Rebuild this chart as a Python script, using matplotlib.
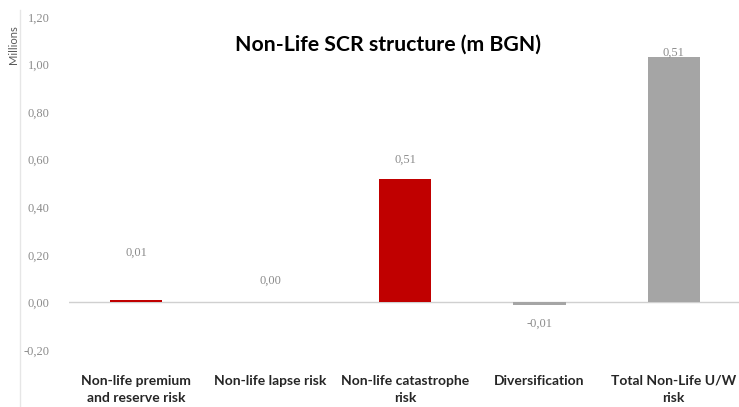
import matplotlib
matplotlib.use("Agg")
import matplotlib.pyplot as plt
from matplotlib.lines import Line2D

categories = ["Non-life premium\nand reserve risk", "Non-life lapse risk",
              "Non-life catastrophe\nrisk", "Diversification", "Total Non-Life U/W\nrisk"]
values = [0.011, 0.0, 0.52, -0.012, 1.03]
value_labels = ["0,01", "0,00", "0,51", "-0,01", "0,51"]
colors = ["#C00000", "#C00000", "#C00000", "#A5A5A5", "#A5A5A5"]
yticks = [-0.2, 0.0, 0.2, 0.4, 0.6, 0.8, 1.0, 1.2]
ytick_labels = ["-0,20", "0,00", "0,20", "0,40", "0,60", "0,80", "1,00", "1,20"]
label_y = [0.21, 0.09, 0.60, -0.09, 1.05]

fig = plt.figure(figsize=(7.39, 4.07), dpi=100)
ax = fig.add_axes([69/739, 1 - 350/407, (741-69)/739, (350-17)/407])

x = list(range(len(categories)))
ax.bar(x, values, width=0.39, color=colors, zorder=3)
ax.axhline(0, color="#D0D0D0", lw=1, zorder=2)
ax.set_xlim(-0.5, len(categories) - 0.5)
ax.set_ylim(-0.2, 1.2)
ax.set_yticks(yticks)
ax.set_yticklabels(ytick_labels, family="Liberation Serif", fontsize=9, color="#8C8C8C")
ax.tick_params(axis="y", length=0, pad=14)
ax.set_xticks([])
for s in ax.spines.values():
    s.set_visible(False)

for xi, ly, lab in zip(x, label_y, value_labels):
    ax.text(xi, ly, lab, ha="center", va="center", fontsize=9,
            family="Liberation Serif", color="#8C8C8C", zorder=4)

for xi, cat in zip(x, categories):
    ax.text(xi, -0.305, cat, ha="center", va="top", fontsize=10, fontweight="bold",
            family="Lato", color="#262626", linespacing=1.5, multialignment="center")

fig.text(388/739, 1 - 45/407, "Non-Life SCR structure (m BGN)", ha="center", va="center",
         fontsize=15.3, fontweight="bold", family="Lato", color="#000000")
fig.text(14/739, 1 - 45/407, "Millions", rotation=90, ha="center", va="center",
         fontsize=8, family="Lato", color="#595959")
fig.add_artist(Line2D([20/739, 20/739], [1 - 10/407, 0], color="#E6E6E6", lw=1))

fig.savefig("out.png", dpi=100)
